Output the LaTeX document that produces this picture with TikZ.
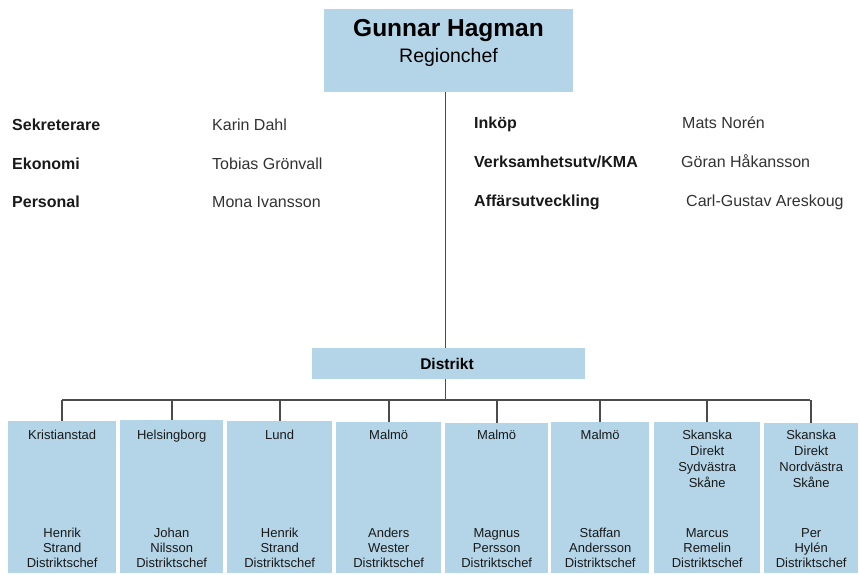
\documentclass[tikz,border=0pt]{standalone}
\usepackage{fontspec}
\setmainfont{Liberation Sans}
\definecolor{boxblue}{RGB}{180,213,231}
\definecolor{linegray}{RGB}{75,75,75}
\definecolor{txt}{RGB}{25,25,25}
\definecolor{nametxt}{RGB}{50,50,50}
\begin{document}
\begin{tikzpicture}[x=1pt,y=-1pt,
  panel/.style={fill=boxblue, draw=none, inner sep=0, anchor=north west},
  wire/.style={draw=linegray, line width=1.8pt},
  rolelbl/.style={font=\fontsize{16}{19}\selectfont\bfseries, text=txt, anchor=base west, inner sep=0},
  personlbl/.style={font=\fontsize{16}{19}\selectfont, text=nametxt, anchor=base west, inner sep=0},
  unithead/.style={font=\fontsize{13}{16}\selectfont, text=txt, align=center, anchor=north, inner sep=0},
  unitfoot/.style={font=\fontsize{13}{15}\selectfont, text=txt, align=center, anchor=south, inner sep=0}
]
\useasboundingbox (0,0) rectangle (859,574);

% head of region
\node[panel, minimum width=249, minimum height=83] (head) at (324,9) {};
\node[font=\fontsize{24.5}{28}\selectfont\bfseries, anchor=base, inner sep=0] (headname) at (448.5,36) {Gunnar Hagman};
\node[font=\fontsize{19.5}{22}\selectfont, anchor=base, inner sep=0] (headrole) at (448.5,62.5) {Regionchef};

% staff functions
\node[rolelbl] (r1) at (12,130) {Sekreterare};
\node[rolelbl] (r2) at (12,169) {Ekonomi};
\node[rolelbl] (r3) at (12,207.5) {Personal};
\node[personlbl] (p1) at (212,130) {Karin Dahl};
\node[personlbl] (p2) at (212,169) {Tobias Grönvall};
\node[personlbl] (p3) at (212,207.5) {Mona Ivansson};

\node[rolelbl] (r4) at (474,128.5) {Inköp};
\node[rolelbl] (r5) at (474,167.5) {Verksamhetsutv/KMA};
\node[rolelbl] (r6) at (474,206) {Affärsutveckling};
\node[personlbl] (p4) at (682,128.5) {Mats Norén};
\node[personlbl] (p5) at (681,167.5) {Göran Håkansson};
\node[personlbl] (p6) at (686,206) {Carl-Gustav Areskoug};

% district header
\node[panel, minimum width=273, minimum height=31] (dist) at (312,348) {};
\node[font=\fontsize{15.5}{18}\selectfont\bfseries, anchor=base, inner sep=0] (distlbl) at (447,369.5) {Distrikt};

% district units
\node[panel, minimum width=108, minimum height=152] (b1) at (8,421) {};
\node[panel, minimum width=103, minimum height=153] (b2) at (120,420) {};
\node[panel, minimum width=105, minimum height=152] (b3) at (227,421) {};
\node[panel, minimum width=105, minimum height=151] (b4) at (336,422) {};
\node[panel, minimum width=103, minimum height=150] (b5) at (445,423) {};
\node[panel, minimum width=98, minimum height=151] (b6) at (551,422) {};
\node[panel, minimum width=106, minimum height=151] (b7) at (654,422) {};
\node[panel, minimum width=94, minimum height=150] (b8) at (764,423) {};

\foreach \b/\place/\who in {
  b1/{Kristianstad}/{Henrik\\Strand},
  b2/{Helsingborg}/{Johan\\Nilsson},
  b3/{Lund}/{Henrik\\Strand},
  b4/{Malmö}/{Anders\\Wester},
  b5/{Malmö}/{Magnus\\Persson},
  b6/{Malmö}/{Staffan\\Andersson},
  b7/{Skanska\\Direkt\\Sydvästra\\Skåne}/{Marcus\\Remelin},
  b8/{Skanska\\Direkt\\Nordvästra\\Skåne}/{Per\\Hylén}}{
  \node[unithead] (\b head) at (\b.north |- 0,429.5) {\place};
  \node[unitfoot] (\b foot) at (\b.north |- 0,567.5) {\who\\Distriktschef};
}

% connectors
\coordinate (spine) at (445.5,92);
\coordinate (busL) at (62,400);
\coordinate (busR) at (810,400);
\draw[wire] (spine) -- (spine |- dist.north);
\draw[wire] (spine |- dist.south) -- (spine |- busL);
\draw[wire] (busL) -- (busR);
\foreach \b in {b1,b2,b3,b4,b5,b6,b7,b8}{
  \draw[wire] (\b.north |- busL) -- (\b.north);
}
\end{tikzpicture}
\end{document}
